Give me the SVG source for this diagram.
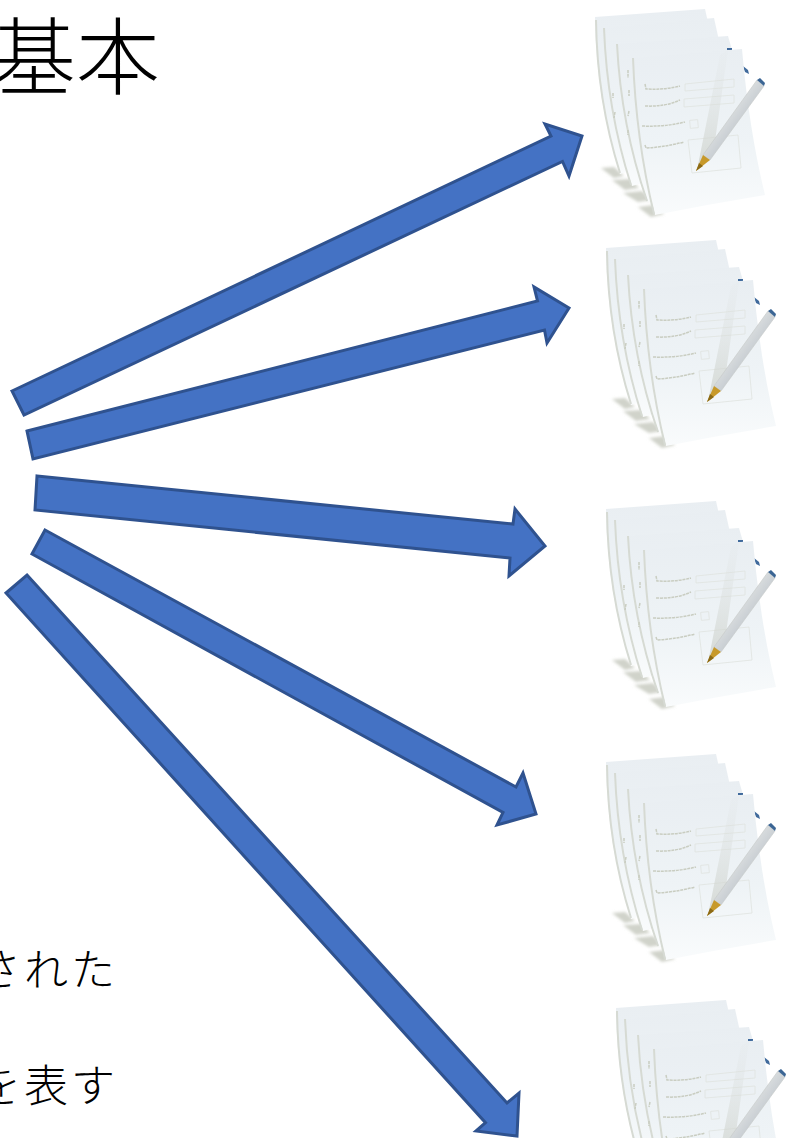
<svg xmlns="http://www.w3.org/2000/svg" xmlns:xlink="http://www.w3.org/1999/xlink" width="795" height="1138" viewBox="0 0 795 1138">
<style>
.jp{font-family:"Noto Sans CJK JP","Noto Sans CJK SC",sans-serif;font-weight:300;fill:#000;text-anchor:end}
.arrow{fill:#4472C4;stroke:#2F528F;stroke-width:3;stroke-linejoin:miter}
.page{fill:url(#pg)}
.edge{fill:none;stroke:#d6dad3;stroke-width:2}
.shadow{fill:#d0d3ca;filter:url(#b2)}
.box{fill:none;stroke:#dfe3df;stroke-width:.8}
.ink{fill:none;stroke:#c9cdc1;stroke-width:1.500;stroke-dasharray:3 .8}
</style>
<defs>
<linearGradient id="pg" x1="0" y1="0" x2="0" y2="1"><stop offset="0" stop-color="#e9eef2"/><stop offset=".55" stop-color="#eef3f6"/><stop offset="1" stop-color="#f9fbfc"/></linearGradient>
<linearGradient id="cone" x1="0" y1="0" x2="0" y2="1"><stop offset="0" stop-color="#dfe3e3" stop-opacity=".1"/><stop offset="1" stop-color="#cdd1cb" stop-opacity=".75"/></linearGradient>
<linearGradient id="pen" x1="0" y1="0" x2="1" y2="1"><stop offset="0" stop-color="#f3f5f5"/><stop offset=".45" stop-color="#d6dadc"/><stop offset=".6" stop-color="#c4cad0"/><stop offset="1" stop-color="#f0f2f2"/></linearGradient>
<filter id="b2" x="-30%" y="-60%" width="160%" height="220%"><feGaussianBlur stdDeviation="1.800"/></filter>
<filter id="b1" x="-5%" y="-5%" width="110%" height="110%"><feGaussianBlur stdDeviation=".4"/></filter>
<g id="doc" filter="url(#b1)">
<polygon class="shadow" points="601,168 614,167 624,176 614,178"/>
<polygon class="shadow" points="612,180 630,179 639,188 625,190"/>
<polygon class="shadow" points="623,193 642,191 652,200 638,202"/>
<polygon class="shadow" points="638,207 654,205 664,214 651,217"/>
<path class="page" d="M595,17 L705,9 L712,40 L700,150 L620,174 Q596,100 595,17Z"/>
<path class="edge" d="M596,20 Q597,100 620,173" stroke-width="1"/>
<path class="page" d="M604,28 L714,18 L720,45 L710,165 L632,186 Q608,110 604,28Z"/>
<path class="edge" d="M604,28 Q607,110 631,185"/>
<path class="page" d="M617,44 L728,36 L735,60 L725,180 L648,202 Q622,125 617,44Z"/>
<path class="edge" d="M617,44 Q621,125 647,201"/>
<rect x="727" y="48" width="5" height="2" fill="#3f6a9c"/>
<path d="M743,66 L748,70 L749,74 L745,72Z" fill="#3f6a9c"/>
<path class="page" d="M633,58 L742,49 Q749,130 765,195 Q710,204 655,215 Q636,140 633,58Z"/>
<path class="edge" d="M633,58 Q636,140 654,214"/>
<path class="ink" d="M628,70 v8 M629,90 v6 M613,93 v5 M615,112 l-1,6 M629,111 l-1,5 M628,130 v5"/>
<path class="ink" d="M645,84 L646,89 Q665,90 680,86"/>
<path class="ink" d="M645,106 Q665,107 680,100"/>
<path class="ink" d="M642,126 Q665,127 685,122"/>
<path class="ink" d="M645,145 L646,148 Q665,147 684,142"/>
<polygon class="box" points="685,84 734,79 734,87 685,91"/>
<polygon class="box" points="684,99 734,95 734,103 684,107"/>
<rect class="box" x="690" y="120" width="8" height="8" transform="rotate(-5 694 124)"/>
<polygon class="box" points="688,140 738,135 741,168 692,173"/>
<polygon points="698,165 720,55 728,50 714,148" fill="url(#cone)"/>
<polygon points="703,155 757,80 764,86 710,160" fill="url(#pen)" stroke="#c6cac8" stroke-width=".6"/>
<polygon points="757,80 760,78 765,83 764,86" fill="#3a6594"/>
<polygon points="696,171 703,155 710,160" fill="#c7992b"/>
<polygon points="696,171 699,163 703,166" fill="#8c6a12"/>
</g>
</defs>
<g id="title"><text class="jp" x="160" y="88" font-size="84">基本</text></g>
<g id="text-line-1"><text class="jp" x="118" y="986" font-size="44" letter-spacing="3">された</text></g>
<g id="text-line-2"><text class="jp" x="118" y="1102" font-size="44" letter-spacing="3">を表す</text></g>
<g id="doc-1"><use href="#doc" xlink:href="#doc"/></g>
<g id="doc-2"><use href="#doc" xlink:href="#doc" x="11" y="231"/></g>
<g id="doc-3"><use href="#doc" xlink:href="#doc" x="11" y="492"/></g>
<g id="doc-4"><use href="#doc" xlink:href="#doc" x="11" y="745"/></g>
<g id="doc-5"><use href="#doc" xlink:href="#doc" x="21" y="991"/></g>
<g id="connectors">
<polygon class="arrow" points="12,391 551,136 545,124 582,136 569,176 562.500,161.500 24,415"/>
<polygon class="arrow" points="27,431 537.500,301 534,287 569,308 547,343 544.500,330 33,459"/>
<polygon class="arrow" points="37,476 513,524 515,509 545,546 509,576 510,558 35,510"/>
<polygon class="arrow" points="45,530 516,787 523,773 536,814 497,825 503,812.500 32,554"/>
<polygon class="arrow" points="27,575 507,1103 519,1093 517,1136 476,1131 485.500,1122.700 6,593"/>
</g>
</svg>
